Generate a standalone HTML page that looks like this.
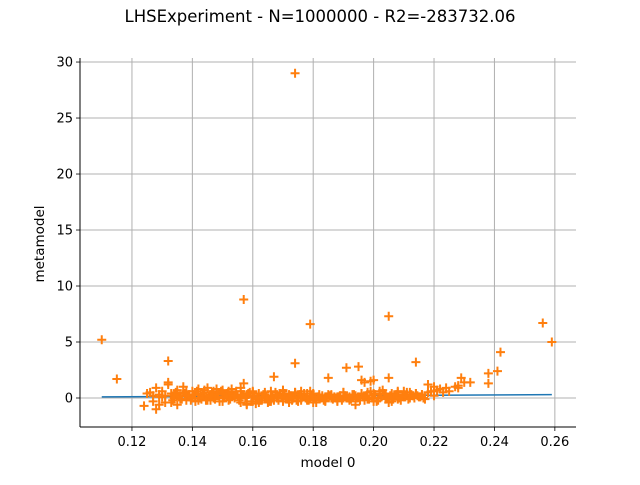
<!DOCTYPE html>
<html><head><meta charset="utf-8"><style>
body{margin:0;background:#fff;}
svg text{font-family:"DejaVu Sans","Liberation Sans",sans-serif;}
</style></head><body>
<svg id="chart" width="640" height="480" xmlns="http://www.w3.org/2000/svg">
<rect width="640" height="480" fill="#fff"/>
<text x="320" y="22" text-anchor="middle" font-size="16.5">LHSExperiment - N=1000000 - R2=-283732.06</text>
<g id="grid"></g>
<g id="line"></g>
<g id="pts"></g>
<g id="axes"></g>
<text x="328" y="467" text-anchor="middle" font-size="13.5">model 0</text>
<text transform="translate(44,244) rotate(-90)" text-anchor="middle" font-size="13.5">metamodel</text>
</svg>
<script>
const xTicks=[0.12,0.14,0.16,0.18,0.20,0.22,0.24,0.26];
const xTickLabels=["0.12","0.14","0.16","0.18","0.20","0.22","0.24","0.26"];
const yTicks=[0,5,10,15,20,25,30];
const yTickLabels=["0","5","10","15","20","25","30"];
const lineX=[0.110,0.259];
const lineY=[0.10,0.30];
const outX=[0.110,0.115,0.132,0.157,0.174,0.174,0.179,0.205,0.214,0.256,0.259,0.242,0.241,0.238,0.238,0.191,0.195,0.167,0.185,0.205,0.229,0.230,0.232,0.227,0.228,0.220,0.222,0.224,0.218,0.196,0.199,0.200,0.197,0.157,0.132];
const outY=[5.2,1.7,3.3,8.8,29.0,3.1,6.6,7.3,3.2,6.7,5.0,4.1,2.4,2.2,1.3,2.7,2.8,1.9,1.8,1.8,1.8,1.4,1.4,1.0,1.1,1.0,0.8,0.9,1.2,1.6,1.5,1.6,1.4,1.3,1.4];
const clX=[0.124,0.125,0.126,0.127,0.128,0.128,0.129,0.129,0.130,0.130,0.131,0.132,0.133,0.133,0.134,0.135,0.135,0.136,0.137,0.138,0.139,0.140,0.141,0.141,0.142,0.143,0.143,0.144,0.145,0.145,0.146,0.147,0.147,0.148,0.149,0.150,0.150,0.151,0.152,0.153,0.153,0.154,0.155,0.156,0.156,0.157,0.158,0.158,0.159,0.160,0.160,0.161,0.162,0.163,0.163,0.164,0.165,0.166,0.166,0.167,0.168,0.169,0.170,0.170,0.171,0.172,0.173,0.174,0.175,0.175,0.176,0.177,0.178,0.179,0.179,0.180,0.181,0.182,0.183,0.184,0.185,0.186,0.187,0.188,0.189,0.190,0.191,0.192,0.193,0.194,0.195,0.196,0.197,0.198,0.199,0.200,0.201,0.202,0.203,0.204,0.205,0.206,0.207,0.208,0.209,0.210,0.211,0.212,0.213,0.214,0.215,0.216,0.217,0.218,0.219,0.220,0.221,0.223,0.225,0.228,0.142,0.146,0.150,0.154,0.158,0.162,0.166,0.170,0.174,0.178,0.182,0.186,0.190,0.194,0.198,0.202,0.206,0.210,0.144,0.152,0.160,0.168,0.176,0.184,0.192,0.200,0.208,0.148,0.156,0.164,0.172,0.180,0.188,0.196,0.204,0.212,0.127,0.129,0.131,0.134,0.137,0.139];
const clY=[-0.7,0.4,0.5,-0.3,0.9,-1.0,0.3,-0.6,0.1,0.6,0.2,1.2,0.4,-0.4,0.0,0.7,-0.6,0.2,0.5,-0.2,0.1,0.6,0.3,-0.3,0.8,0.2,-0.1,0.5,0.9,-0.2,0.3,0.6,0.0,0.4,-0.3,0.7,0.1,0.3,-0.2,0.5,0.8,0.0,0.2,-0.4,0.6,0.3,-0.6,0.1,0.5,-0.3,0.2,-0.5,0.4,0.0,-0.2,0.3,-0.4,0.1,0.6,-0.2,0.2,0.4,-0.3,0.7,0.0,0.3,-0.2,0.5,0.1,-0.3,0.2,0.4,-0.1,0.6,0.0,0.3,-0.4,0.1,0.2,-0.2,0.3,0.0,0.1,-0.3,0.2,0.5,0.0,-0.1,0.3,-0.6,0.1,0.4,-0.2,0.2,0.6,0.0,-0.3,0.3,0.7,0.1,-0.4,0.4,0.2,0.6,-0.2,0.3,0.5,0.0,0.2,0.4,0.1,0.3,-0.1,0.5,0.6,0.2,0.7,0.5,0.6,0.9,0.4,-0.2,0.5,0.1,0.3,-0.1,0.2,0.0,0.4,-0.2,0.1,0.3,0.0,0.2,-0.1,0.4,-0.3,0.1,0.2,0.3,0.5,0.0,0.6,0.1,-0.2,0.4,-0.1,0.3,0.2,0.0,-0.2,0.4,0.1,0.3,-0.1,0.5,0.2,0.1,-0.4,0.2,1.0,0.3,0.1];
const cl2X=[0.1335,0.1345,0.1355,0.1365,0.1375,0.1385,0.1395,0.1405,0.1415,0.1425,0.1435,0.1445,0.1455,0.1465,0.1475,0.1485,0.1495,0.1505,0.1515,0.1525,0.1535,0.1545,0.1555,0.1565,0.1575,0.1585,0.1595,0.1605,0.1615,0.1625,0.1635,0.1645,0.1655,0.1665,0.1675,0.1685,0.1695,0.1705,0.1715,0.1725,0.1735,0.1745,0.1755,0.1765,0.1775,0.1785,0.1795,0.1805,0.1815,0.1825,0.1835,0.1845,0.1855,0.1865,0.1875,0.1885,0.1895,0.1905,0.1915,0.1925,0.1935,0.1945,0.1955,0.1965,0.1975,0.1985,0.1995,0.2005,0.2015,0.2025,0.2035,0.2045,0.2055,0.2065,0.2075,0.2085,0.2095,0.2105,0.2115,0.2125,0.2135,0.2145,0.2155,0.2165];
const cl2Y=[-0.2,0.5,0.1,-0.1,0.4,0.2,-0.2,0.3,0.6,0.0,0.4,-0.2,0.2,0.5,-0.1,0.3,0.6,0.0,0.4,-0.1,0.2,0.6,-0.2,0.3,0.0,0.4,-0.3,0.2,0.0,-0.2,0.3,0.1,-0.3,0.2,0.5,-0.2,0.1,0.4,-0.1,0.2,0.0,-0.2,0.3,0.1,0.0,-0.2,0.2,-0.1,0.1,0.0,-0.2,0.1,0.2,-0.1,0.0,0.1,-0.2,0.2,0.0,-0.1,0.3,0.0,-0.2,0.1,0.2,-0.1,0.0,0.3,-0.2,0.1,0.4,0.0,0.2,-0.1,0.3,0.0,0.2,0.1,-0.1,0.3,0.0,0.2,0.1,0.0];
const cl3X=[0.1340,0.1360,0.1380,0.1400,0.1420,0.1440,0.1460,0.1480,0.1500,0.1520,0.1540,0.1560,0.1580,0.1600,0.1620,0.1640,0.1660,0.1680,0.1700,0.1720,0.1740,0.1760,0.1780,0.1800,0.1820,0.1840,0.1860,0.1880,0.1900,0.1920,0.1940,0.1960,0.1980,0.2000,0.2020,0.2040,0.2060,0.2080,0.2100,0.2120,0.2140,0.2160,0.2180,0.2200];
const cl3Y=[0.3,-0.1,0.6,0.0,-0.2,0.7,0.1,0.8,-0.3,0.6,0.2,0.9,-0.5,0.6,-0.4,0.5,-0.3,0.3,0.6,-0.4,0.5,-0.2,0.4,-0.4,0.3,-0.3,0.2,-0.2,0.5,0.1,-0.3,0.4,0.5,-0.3,0.6,0.3,-0.1,0.5,0.6,0.2,0.4,0.3,0.5,0.6];
const L=80,R=576,T=58,B=427,xMin=0.1028,xMax=0.2670,yMin=-2.59,yMax=30.36;
const sx=v=>L+(v-xMin)/(xMax-xMin)*(R-L);
const sy=v=>B-(v-yMin)/(yMax-yMin)*(B-T);
const NS="http://www.w3.org/2000/svg";
function mk(tag,attrs,parent){const e=document.createElementNS(NS,tag);for(const k in attrs)e.setAttribute(k,attrs[k]);parent.appendChild(e);return e;}
const grid=document.getElementById('grid'),axes=document.getElementById('axes'),pts=document.getElementById('pts'),lg=document.getElementById('line');
xTicks.forEach((t,i)=>{const x=sx(t);
 const g=mk('line',{x1:x,x2:x,y1:T,y2:B,stroke:'#b0b0b0','stroke-width':1},grid);
 
 
 mk('line',{x1:x,x2:x,y1:B,y2:B+4,stroke:'#000','stroke-width':0.8},axes);
 const tx=mk('text',{x:x,y:B+19,'text-anchor':'middle','font-size':13},axes);tx.textContent=xTickLabels[i];
 
 });
yTicks.forEach((t,i)=>{const y=sy(t);
 const g=mk('line',{x1:L,x2:R,y1:y,y2:y,stroke:'#b0b0b0','stroke-width':1},grid);
 
 
 mk('line',{x1:L-4,x2:L,y1:y,y2:y,stroke:'#000','stroke-width':0.8},axes);
 const tx=mk('text',{x:L-7,y:y+4.5,'text-anchor':'end','font-size':13},axes);tx.textContent=yTickLabels[i];
 
 });
const sl=mk('line',{x1:L,x2:L,y1:T,y2:B,stroke:'#000','stroke-width':1},axes);


const sb=mk('line',{x1:L,x2:R,y1:B,y2:B,stroke:'#000','stroke-width':1},axes);


const fl=mk('polyline',{points:lineX.map((v,i)=>sx(v)+','+sy(lineY[i])).join(' '),fill:'none',stroke:'#1f77b4','stroke-width':1.5},lg);


function plus(x,y){const p=mk('path',{d:`M${sx(x)-4.5},${sy(y)}h9M${sx(x)},${sy(y)-4.5}v9`,stroke:'#ff7f0e','stroke-width':2,fill:'none'},pts);
 
 }
clX.forEach((x,i)=>plus(x,clY[i]));
cl2X.forEach((x,i)=>plus(x,cl2Y[i]));
cl3X.forEach((x,i)=>plus(x,cl3Y[i]));
outX.forEach((x,i)=>plus(x,outY[i]));
</script>
</body></html>
